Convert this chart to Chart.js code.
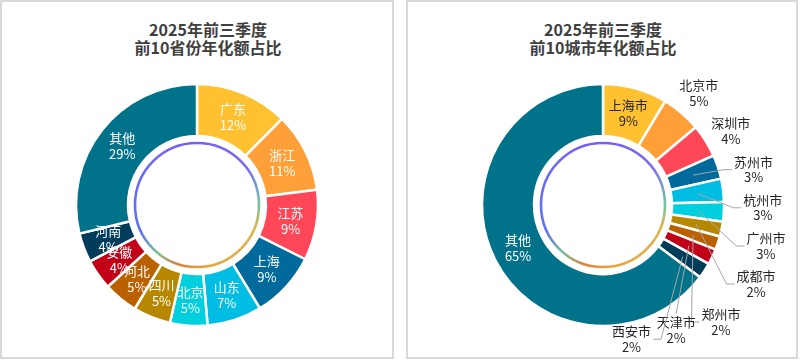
<!DOCTYPE html>
<html>
<head>
<meta charset="utf-8">
<title>annualized share</title>
<script src="https://cdn.jsdelivr.net/npm/chart.js@4.4.1/dist/chart.umd.min.js"></script>
<style>
  body { margin:0; background:#fff; width:800px; height:361px; position:relative; overflow:hidden;
         font-family:"Noto Sans CJK SC", sans-serif; }
  .panel { position:absolute; top:0; height:359px; border:2px solid #d9d9d9; box-sizing:border-box; }
  .title { position:absolute; top:20px; font-weight:bold; font-size:16px; line-height:18px;
           color:#404040; text-align:center; transform:translateX(-50%); white-space:nowrap; }
  canvas { position:absolute; top:0; }
</style>
</head>
<body>
  <div class="panel" style="left:0;width:394px;"></div>
  <div class="panel" style="left:406px;width:392px;"></div>
  <div class="title" style="left:208px;">2025年前三季度<br>前10省份年化额占比</div>
  <div class="title" style="left:603px;">2025年前三季度<br>前10城市年化额占比</div>
  <canvas id="provChart" width="400" height="361" style="left:0;width:400px;height:361px;"></canvas>
  <canvas id="cityChart" width="400" height="361" style="left:400px;width:400px;height:361px;"></canvas>
<script>
  // shares (percent)
  const provinceNames = ['广东','浙江','江苏','上海','山东','北京','四川','河北','安徽','河南','其他'];
  const provinceShares = [12.4, 10.6, 9.4, 8.9, 7.3, 5.0, 5.0, 4.6, 4.1, 3.9, 28.8];

  const cityNames = ['上海市','北京市','深圳市','苏州市','杭州市','广州市','成都市','郑州市','天津市','西安市','其他'];
  const cityShares = [8.6, 5.3, 4.4, 3.2, 3.1, 2.6, 2.0, 1.8, 2.1, 2.1, 64.8];

  const sliceColors = ['#FFC12F','#FF9F37','#FF4757','#006A9C','#00BDE4','#00CFDD',
                       '#B88700','#B96000','#C20018','#003D5B','#00728A'];

  const labelFont = '13px "Noto Sans CJK SC", sans-serif';

  // thin gradient circle inside the hole
  const innerRing = {
    id: 'innerRing',
    afterDatasetsDraw(chart) {
      const arc = chart.getDatasetMeta(0).data[0];
      const {x, y} = arc.getProps(['x', 'y'], true);
      const ctx = chart.ctx;
      ctx.save();
      let stroke = '#7a6cf0';
      if (ctx.createConicGradient) {
        const g = ctx.createConicGradient(0, x, y);
        g.addColorStop(0.00, '#74c69d');
        g.addColorStop(0.06, '#dcb64e');
        g.addColorStop(0.22, '#e9a53c');
        g.addColorStop(0.30, '#e0803c');
        g.addColorStop(0.36, '#77c393');
        g.addColorStop(0.43, '#5f72f2');
        g.addColorStop(0.60, '#6a6af5');
        g.addColorStop(0.75, '#7a5cf6');
        g.addColorStop(0.90, '#7a6cf0');
        g.addColorStop(0.96, '#76a8c0');
        g.addColorStop(1.00, '#74c69d');
        stroke = g;
      }
      ctx.strokeStyle = stroke;
      ctx.lineWidth = 2.6;
      ctx.beginPath();
      ctx.arc(x, y, 62, 0, Math.PI * 2);
      ctx.stroke();
      ctx.restore();
    }
  };

  // data labels: inside the slice, or outside with leader lines for thin slices
  const sliceLabels = {
    id: 'sliceLabels',
    afterDatasetsDraw(chart, args, opts) {
      const ctx = chart.ctx;
      const ds = chart.data.datasets[0];
      const total = ds.data.reduce((a, b) => a + b, 0);
      const arcs = chart.getDatasetMeta(0).data;
      ctx.save();
      ctx.font = labelFont;
      ctx.textAlign = 'center';
      ctx.textBaseline = 'middle';
      const lh = 15.5;
      const outs = [];
      let cx = 0, cy = 0, outerR = 0;
      arcs.forEach((arc, i) => {
        const p = arc.getProps(['x','y','startAngle','endAngle','innerRadius','outerRadius'], true);
        cx = p.x; cy = p.y; outerR = p.outerRadius;
        const pct = ds.data[i] / total * 100;
        const lines = [chart.data.labels[i], Math.round(pct) + '%'];
        const mid = (p.startAngle + p.endAngle) / 2 + Math.PI / 2; // clockwise from top
        const rm = (p.innerRadius + p.outerRadius) / 2;
        if (pct >= opts.outsideBelow) {
          const lx = p.x + rm * Math.sin(mid), ly = p.y - rm * Math.cos(mid);
          ctx.fillStyle = opts.insideColors[i];
          ctx.fillText(lines[0], lx, ly - 8);
          ctx.fillText(lines[1], lx, ly + 8);
        } else {
          const hw = Math.max(...lines.map(s => ctx.measureText(s).width)) / 2;
          outs.push({lines, mid, rm, hw, hh: lh, line: pct < 4});
        }
      });

      // labels with leader lines sit further out where they crowd (right / lower right)
      const deg = Math.PI / 180;
      const ext = (t, hw, hh) => hw * Math.abs(Math.sin(t)) + hh * Math.abs(Math.cos(t));
      const lift = t => {
        const d = t - 122 * deg;
        const k = d < 0 ? 1.45 : 3.2;
        return Math.max(-3, 27 * Math.cos(Math.min(Math.PI, Math.abs(k * d))));
      };
      let prev = null;
      outs.forEach(o => {
        let t = Math.max(o.mid, prev ? prev.t : -Infinity);
        let pos;
        for (let k = 0; k < 400; k++) {
          const pad = o.line ? lift(t) : 2;
          const d = outerR + ext(t, o.hw, o.hh) + pad;
          pos = {x: cx + d * Math.sin(t), y: cy - d * Math.cos(t)};
          if (!prev || Math.abs(pos.x - prev.x) >= o.hw + prev.hw + 5 ||
              Math.abs(pos.y - prev.y) >= o.hh + prev.hh + 7) break;
          t += 0.005;
        }
        o.t = t; o.x = pos.x; o.y = pos.y;
        prev = o;

        if (o.line) {
          const sx = cx + o.rm * Math.sin(o.mid), sy = cy - o.rm * Math.cos(o.mid);
          ctx.strokeStyle = '#a6a6a6';
          ctx.lineWidth = 1;
          ctx.beginPath();
          ctx.moveTo(sx, sy);
          if (sx < o.x - o.hw) {
            const ex = o.x - o.hw - 2;
            ctx.lineTo(ex - 8, o.y);
            ctx.lineTo(ex, o.y);
          } else if (sx > o.x + o.hw) {
            const ex = o.x + o.hw + 2;
            ctx.lineTo(ex + 8, o.y);
            ctx.lineTo(ex, o.y);
          } else {
            ctx.lineTo(o.x, o.y - o.hh - 1);
          }
          ctx.stroke();
        }
        ctx.fillStyle = opts.outsideColor;
        ctx.fillText(o.lines[0], o.x, o.y - lh / 2);
        ctx.fillText(o.lines[1], o.x, o.y + lh / 2);
      });
      ctx.restore();
    }
  };

  function drawDoughnut(id, names, shares, pad, labelOpts) {
    const ctx = document.getElementById(id).getContext('2d');
    return new Chart(ctx, {
      type: 'doughnut',
      data: {
        labels: names,
        datasets: [{
          data: shares,
          backgroundColor: sliceColors,
          borderColor: '#ffffff',
          borderWidth: 2.5,
          hoverOffset: 0
        }]
      },
      options: {
        responsive: false,
        animation: false,
        events: [],
        radius: 121,
        cutout: '57%',
        layout: { padding: pad },
        plugins: {
          legend: { display: false },
          title: { display: false },
          tooltip: { enabled: false },
          sliceLabels: labelOpts
        }
      },
      plugins: [innerRing, sliceLabels]
    });
  }

  drawDoughnut('provChart', provinceNames, provinceShares,
    {left: 0, right: 6, top: 49, bottom: 0},
    {outsideBelow: 0, insideColors: sliceColors.map(() => '#ffffff'), outsideColor: '#404040'});

  drawDoughnut('cityChart', cityNames, cityShares,
    {left: 6, right: 0, top: 49, bottom: 0},
    {outsideBelow: 8, insideColors: ['#262626'].concat(sliceColors.slice(1).map(() => '#ffffff')),
     outsideColor: '#262626'});
</script>
</body>
</html>
